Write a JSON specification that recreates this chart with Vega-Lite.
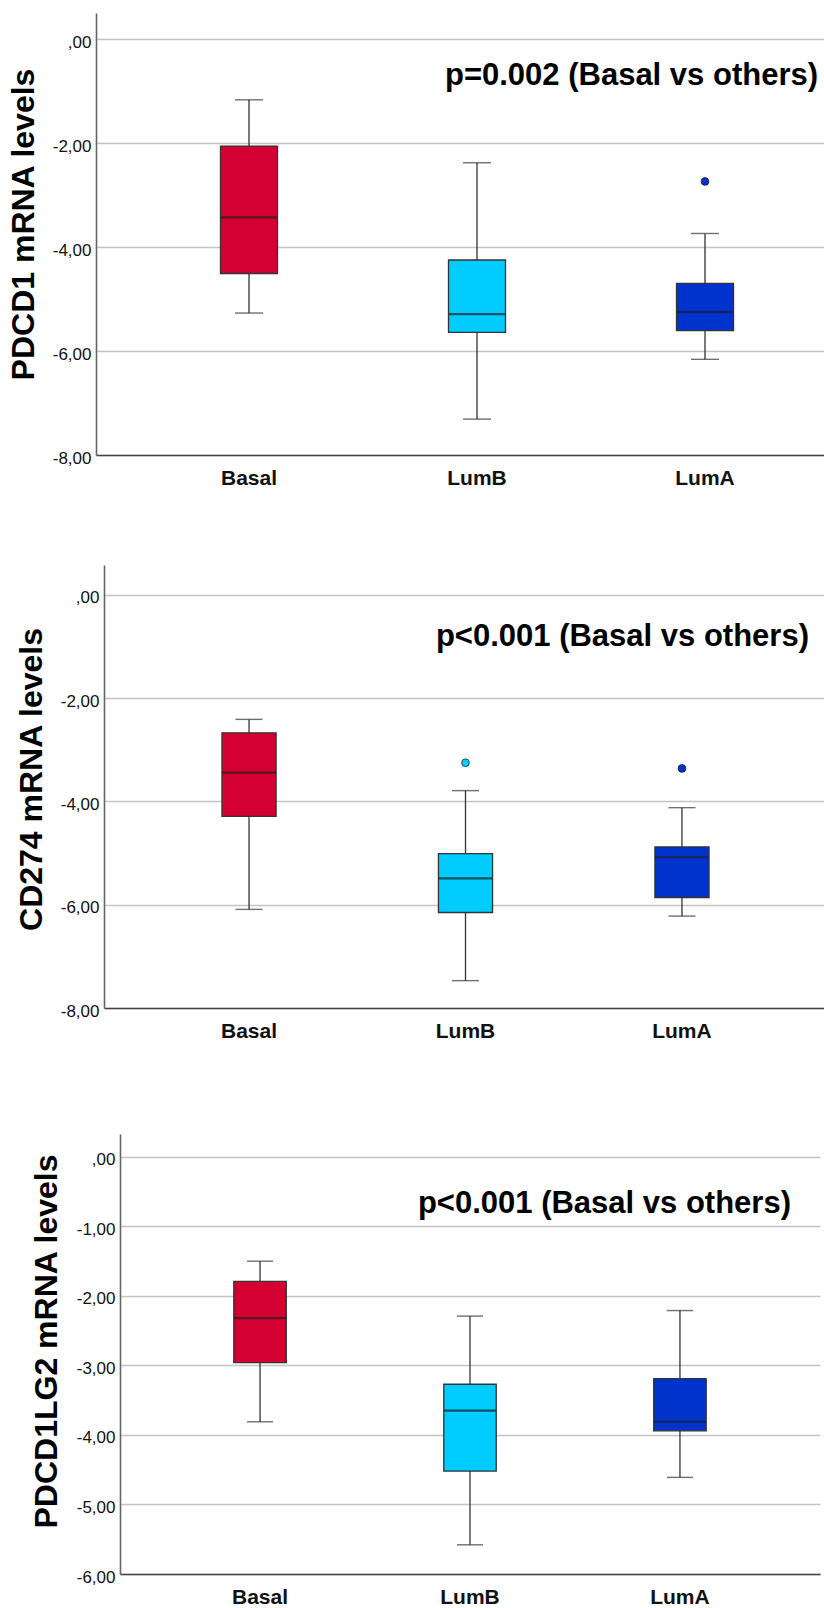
{
  "$schema": "https://vega.github.io/schema/vega-lite/v6.json",
  "padding": {"left": 0, "top": 13, "right": 0, "bottom": 0},
  "background": "white",
  "datasets": {
    "boxes": [
      {"panel": 1, "group": "Basal", "lo": -5.27, "q1": -4.51, "med": -3.43, "q3": -2.06, "hi": -1.17},
      {"panel": 1, "group": "LumB", "lo": -7.31, "q1": -5.64, "med": -5.29, "q3": -4.25, "hi": -2.38},
      {"panel": 1, "group": "LumA", "lo": -6.16, "q1": -5.61, "med": -5.25, "q3": -4.70, "hi": -3.74},
      {"panel": 2, "group": "Basal", "lo": -6.09, "q1": -4.29, "med": -3.44, "q3": -2.67, "hi": -2.41},
      {"panel": 2, "group": "LumB", "lo": -7.47, "q1": -6.15, "med": -5.49, "q3": -5.01, "hi": -3.79},
      {"panel": 2, "group": "LumA", "lo": -6.22, "q1": -5.86, "med": -5.08, "q3": -4.88, "hi": -4.12},
      {"panel": 3, "group": "Basal", "lo": -3.81, "q1": -2.96, "med": -2.32, "q3": -1.79, "hi": -1.50},
      {"panel": 3, "group": "LumB", "lo": -5.58, "q1": -4.52, "med": -3.65, "q3": -3.27, "hi": -2.29},
      {"panel": 3, "group": "LumA", "lo": -4.61, "q1": -3.94, "med": -3.81, "q3": -3.19, "hi": -2.21}
    ],
    "outliers": [
      {"panel": 1, "group": "LumA", "value": -2.74},
      {"panel": 2, "group": "LumB", "value": -3.25},
      {"panel": 2, "group": "LumA", "value": -3.36}
    ],
    "notes": [
      {"panel": 1, "group": "LumA", "value": -0.89, "label": "p=0.002 (Basal vs others)"},
      {"panel": 2, "group": "LumA", "value": -0.99, "label": "p<0.001 (Basal vs others)"},
      {"panel": 3, "group": "LumA", "value": -0.80, "label": "p<0.001 (Basal vs others)"}
    ],
    "none": []
  },
  "spacing": 70,
  "resolve": {"scale": {"x": "independent", "y": "independent", "color": "shared"}},
  "vconcat": [
    {
      "spacing": 0,
      "resolve": {"scale": {"x": "independent", "y": "independent", "color": "shared"}},
      "hconcat": [
        {"width": 1, "height": 1, "data": {"name": "none"}, "mark": {"type": "point", "opacity": 0}, "encoding": {}},
        {
          "width": 728,
          "height": 442,
          "encoding": {
            "x": {"field": "group", "type": "nominal", "sort": ["Basal", "LumB", "LumA"], "scale": {"domain": ["Basal", "LumB", "LumA"], "range": [0, 762], "paddingInner": 0, "paddingOuter": 0.171}, "axis": {"title": null, "labelAngle": 0, "minExtent": 40, "maxExtent": 40}}
          },
          "layer": [
            {
              "data": {"name": "boxes"}, "transform": [{"filter": "datum.panel == 1"}],
              "mark": {"type": "rule", "color": "#333", "strokeWidth": 1.3},
              "encoding": {
                "y": {"field": "lo", "type": "quantitative", "title": "PDCD1 mRNA levels", "scale": {"domain": [-8, 0.5], "nice": false, "zero": false},
                  "axis": {"values": [-8, -6, -4, -2, 0], "minExtent": 95, "maxExtent": 95, "titleX": -56, "titleY": 211, "titleAngle": 270, "titleAlign": "center", "titleBaseline": "bottom", "labelExpr": "datum.value == 0 ? ',00' : (datum.value < 0 ? '-' : '') + replace(format(abs(datum.value), '.2f'), '.', ',')"}},
                "y2": {"field": "hi"}
              }
            },
            {
              "data": {"name": "boxes"}, "transform": [{"filter": "datum.panel == 1"}],
              "mark": {"type": "tick", "color": "#333", "size": 28, "thickness": 1.4},
              "encoding": {"y": {"field": "lo", "type": "quantitative", "title": "PDCD1 mRNA levels", "scale": {"domain": [-8, 0.5], "nice": false, "zero": false}}}
            },
            {
              "data": {"name": "boxes"}, "transform": [{"filter": "datum.panel == 1"}],
              "mark": {"type": "tick", "color": "#333", "size": 28, "thickness": 1.4},
              "encoding": {"y": {"field": "hi", "type": "quantitative", "title": "PDCD1 mRNA levels", "scale": {"domain": [-8, 0.5], "nice": false, "zero": false}}}
            },
            {
              "data": {"name": "boxes"}, "transform": [{"filter": "datum.panel == 1"}],
              "mark": {"type": "bar", "width": {"band": 0.25}, "stroke": "#333", "strokeWidth": 1.3, "opacity": 1},
              "encoding": {
                "y": {"field": "q1", "type": "quantitative", "title": "PDCD1 mRNA levels", "scale": {"domain": [-8, 0.5], "nice": false, "zero": false}},
                "y2": {"field": "q3"},
                "color": {"field": "group", "type": "nominal", "scale": {"domain": ["Basal", "LumB", "LumA"], "range": ["#d50032", "#00ccff", "#0033cc"]}, "legend": null}
              }
            },
            {
              "data": {"name": "boxes"}, "transform": [{"filter": "datum.panel == 1"}],
              "mark": {"type": "tick", "color": "#1e1e1e", "size": 56, "thickness": 2.2},
              "encoding": {"y": {"field": "med", "type": "quantitative", "title": "PDCD1 mRNA levels", "scale": {"domain": [-8, 0.5], "nice": false, "zero": false}}}
            },
            {
              "data": {"name": "outliers"}, "transform": [{"filter": "datum.panel == 1"}],
              "mark": {"type": "point", "filled": true, "size": 60, "stroke": "#222", "strokeWidth": 0.8, "opacity": 1},
              "encoding": {
                "y": {"field": "value", "type": "quantitative", "title": "PDCD1 mRNA levels", "scale": {"domain": [-8, 0.5], "nice": false, "zero": false}},
                "color": {"field": "group", "type": "nominal", "legend": null}
              }
            },
            {
              "data": {"name": "notes"}, "transform": [{"filter": "datum.panel == 1"}],
              "mark": {"type": "text", "align": "right", "baseline": "alphabetic", "dx": 113, "font": "Liberation Sans", "fontWeight": "bold", "fontSize": 31, "color": "#000"},
              "encoding": {
                "y": {"field": "value", "type": "quantitative", "title": "PDCD1 mRNA levels", "scale": {"domain": [-8, 0.5], "nice": false, "zero": false}},
                "text": {"field": "label"}
              }
            }
          ]
        }
      ]
    },
    {
      "spacing": 8,
      "resolve": {"scale": {"x": "independent", "y": "independent", "color": "shared"}},
      "hconcat": [
        {"width": 1, "height": 1, "data": {"name": "none"}, "mark": {"type": "point", "opacity": 0}, "encoding": {}},
        {
          "width": 720,
          "height": 443,
          "encoding": {
            "x": {"field": "group", "type": "nominal", "sort": ["Basal", "LumB", "LumA"], "scale": {"domain": ["Basal", "LumB", "LumA"], "range": [0, 723], "paddingInner": 0, "paddingOuter": 0.17}, "axis": {"title": null, "labelAngle": 0, "minExtent": 56, "maxExtent": 56}}
          },
          "layer": [
            {
              "data": {"name": "boxes"}, "transform": [{"filter": "datum.panel == 2"}],
              "mark": {"type": "rule", "color": "#333", "strokeWidth": 1.3},
              "encoding": {
                "y": {"field": "lo", "type": "quantitative", "title": "CD274 mRNA levels", "scale": {"domain": [-8, 0.58], "nice": false, "zero": false},
                  "axis": {"values": [-8, -6, -4, -2, 0], "minExtent": 95, "maxExtent": 95, "titleX": -56, "titleY": 214, "titleAngle": 270, "titleAlign": "center", "titleBaseline": "bottom", "labelExpr": "datum.value == 0 ? ',00' : (datum.value < 0 ? '-' : '') + replace(format(abs(datum.value), '.2f'), '.', ',')"}},
                "y2": {"field": "hi"}
              }
            },
            {
              "data": {"name": "boxes"}, "transform": [{"filter": "datum.panel == 2"}],
              "mark": {"type": "tick", "color": "#333", "size": 27, "thickness": 1.4},
              "encoding": {"y": {"field": "lo", "type": "quantitative", "title": "CD274 mRNA levels", "scale": {"domain": [-8, 0.58], "nice": false, "zero": false}}}
            },
            {
              "data": {"name": "boxes"}, "transform": [{"filter": "datum.panel == 2"}],
              "mark": {"type": "tick", "color": "#333", "size": 27, "thickness": 1.4},
              "encoding": {"y": {"field": "hi", "type": "quantitative", "title": "CD274 mRNA levels", "scale": {"domain": [-8, 0.58], "nice": false, "zero": false}}}
            },
            {
              "data": {"name": "boxes"}, "transform": [{"filter": "datum.panel == 2"}],
              "mark": {"type": "bar", "width": {"band": 0.25}, "stroke": "#333", "strokeWidth": 1.3, "opacity": 1},
              "encoding": {
                "y": {"field": "q1", "type": "quantitative", "title": "CD274 mRNA levels", "scale": {"domain": [-8, 0.58], "nice": false, "zero": false}},
                "y2": {"field": "q3"},
                "color": {"field": "group", "type": "nominal", "scale": {"domain": ["Basal", "LumB", "LumA"], "range": ["#d50032", "#00ccff", "#0033cc"]}, "legend": null}
              }
            },
            {
              "data": {"name": "boxes"}, "transform": [{"filter": "datum.panel == 2"}],
              "mark": {"type": "tick", "color": "#1e1e1e", "size": 54, "thickness": 2.2},
              "encoding": {"y": {"field": "med", "type": "quantitative", "title": "CD274 mRNA levels", "scale": {"domain": [-8, 0.58], "nice": false, "zero": false}}}
            },
            {
              "data": {"name": "outliers"}, "transform": [{"filter": "datum.panel == 2"}],
              "mark": {"type": "point", "filled": true, "size": 60, "stroke": "#222", "strokeWidth": 0.8, "opacity": 1},
              "encoding": {
                "y": {"field": "value", "type": "quantitative", "title": "CD274 mRNA levels", "scale": {"domain": [-8, 0.58], "nice": false, "zero": false}},
                "color": {"field": "group", "type": "nominal", "legend": null}
              }
            },
            {
              "data": {"name": "notes"}, "transform": [{"filter": "datum.panel == 2"}],
              "mark": {"type": "text", "align": "right", "baseline": "alphabetic", "dx": 127, "font": "Liberation Sans", "fontWeight": "bold", "fontSize": 31, "color": "#000"},
              "encoding": {
                "y": {"field": "value", "type": "quantitative", "title": "CD274 mRNA levels", "scale": {"domain": [-8, 0.58], "nice": false, "zero": false}},
                "text": {"field": "label"}
              }
            }
          ]
        }
      ]
    },
    {
      "spacing": 24,
      "resolve": {"scale": {"x": "independent", "y": "independent", "color": "shared"}},
      "hconcat": [
        {"width": 1, "height": 1, "data": {"name": "none"}, "mark": {"type": "point", "opacity": 0}, "encoding": {}},
        {
          "width": 704,
          "height": 440,
          "encoding": {
            "x": {"field": "group", "type": "nominal", "sort": ["Basal", "LumB", "LumA"], "scale": {"domain": ["Basal", "LumB", "LumA"], "range": [0, 700], "paddingInner": 0, "paddingOuter": 0.167}, "axis": {"title": null, "labelAngle": 0}}
          },
          "layer": [
            {
              "data": {"name": "boxes"}, "transform": [{"filter": "datum.panel == 3"}],
              "mark": {"type": "rule", "color": "#333", "strokeWidth": 1.3},
              "encoding": {
                "y": {"field": "lo", "type": "quantitative", "title": "PDCD1LG2 mRNA levels", "scale": {"domain": [-6, 0.33], "nice": false, "zero": false},
                  "axis": {"values": [-6, -5, -4, -3, -2, -1, 0], "minExtent": 95, "maxExtent": 95, "titleX": -57, "titleY": 207, "titleAngle": 270, "titleAlign": "center", "titleBaseline": "bottom", "labelExpr": "datum.value == 0 ? ',00' : (datum.value < 0 ? '-' : '') + replace(format(abs(datum.value), '.2f'), '.', ',')"}},
                "y2": {"field": "hi"}
              }
            },
            {
              "data": {"name": "boxes"}, "transform": [{"filter": "datum.panel == 3"}],
              "mark": {"type": "tick", "color": "#333", "size": 26, "thickness": 1.4},
              "encoding": {"y": {"field": "lo", "type": "quantitative", "title": "PDCD1LG2 mRNA levels", "scale": {"domain": [-6, 0.33], "nice": false, "zero": false}}}
            },
            {
              "data": {"name": "boxes"}, "transform": [{"filter": "datum.panel == 3"}],
              "mark": {"type": "tick", "color": "#333", "size": 26, "thickness": 1.4},
              "encoding": {"y": {"field": "hi", "type": "quantitative", "title": "PDCD1LG2 mRNA levels", "scale": {"domain": [-6, 0.33], "nice": false, "zero": false}}}
            },
            {
              "data": {"name": "boxes"}, "transform": [{"filter": "datum.panel == 3"}],
              "mark": {"type": "bar", "width": {"band": 0.25}, "stroke": "#333", "strokeWidth": 1.3, "opacity": 1},
              "encoding": {
                "y": {"field": "q1", "type": "quantitative", "title": "PDCD1LG2 mRNA levels", "scale": {"domain": [-6, 0.33], "nice": false, "zero": false}},
                "y2": {"field": "q3"},
                "color": {"field": "group", "type": "nominal", "scale": {"domain": ["Basal", "LumB", "LumA"], "range": ["#d50032", "#00ccff", "#0033cc"]}, "legend": null}
              }
            },
            {
              "data": {"name": "boxes"}, "transform": [{"filter": "datum.panel == 3"}],
              "mark": {"type": "tick", "color": "#1e1e1e", "size": 52, "thickness": 2.2},
              "encoding": {"y": {"field": "med", "type": "quantitative", "title": "PDCD1LG2 mRNA levels", "scale": {"domain": [-6, 0.33], "nice": false, "zero": false}}}
            },
            {
              "data": {"name": "notes"}, "transform": [{"filter": "datum.panel == 3"}],
              "mark": {"type": "text", "align": "right", "baseline": "alphabetic", "dx": 111, "font": "Liberation Sans", "fontWeight": "bold", "fontSize": 31, "color": "#000"},
              "encoding": {
                "y": {"field": "value", "type": "quantitative", "title": "PDCD1LG2 mRNA levels", "scale": {"domain": [-6, 0.33], "nice": false, "zero": false}},
                "text": {"field": "label"}
              }
            }
          ]
        }
      ]
    }
  ],
  "config": {
    "font": "Liberation Sans",
    "view": {"stroke": null},
    "axis": {"ticks": false, "tickSize": 0, "grid": false},
    "axisY": {"grid": true, "gridColor": "#c4c4c4", "gridWidth": 1.3, "domainColor": "#666", "domainWidth": 1.6, "labelFont": "Liberation Sans", "labelFontSize": 17, "labelColor": "#111", "labelPadding": 5, "labelOffset": 3, "titleFont": "Liberation Sans", "titleFontSize": 32, "titleFontWeight": "bold", "titleColor": "#000", "titlePadding": 9},
    "axisX": {"domainColor": "#444", "domainWidth": 1.6, "labelFont": "Liberation Sans", "labelFontSize": 21, "labelFontWeight": "bold", "labelColor": "#111", "labelPadding": 12, "labelAngle": 0}
  }
}
